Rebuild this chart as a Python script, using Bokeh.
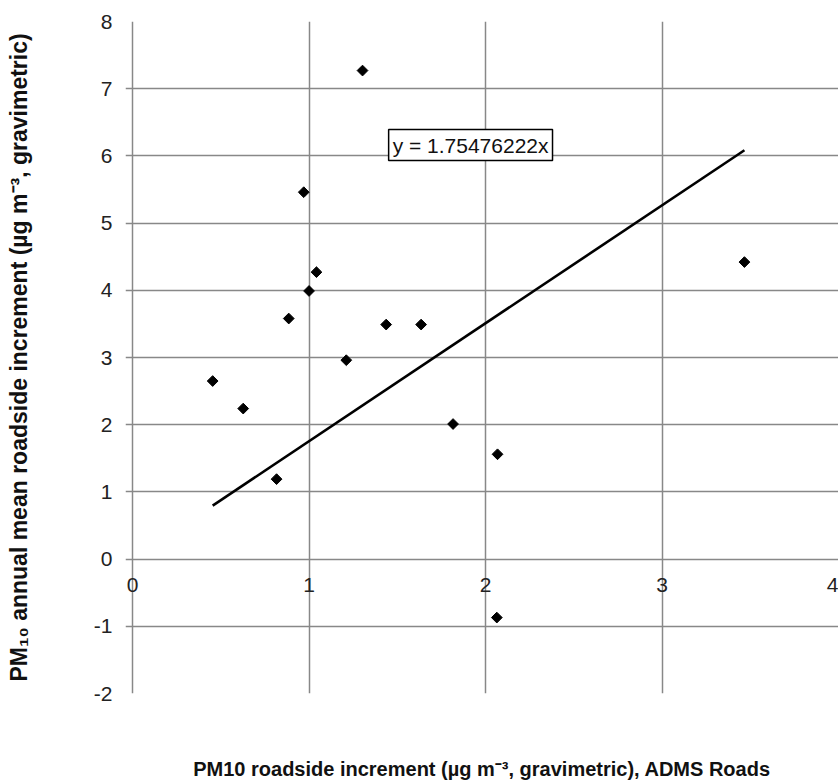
from bokeh.plotting import figure
from bokeh.models import Label, FixedTicker, ColumnDataSource, CustomJSTickFormatter, LinearAxis
from bokeh.embed import file_html
from bokeh.resources import INLINE
import math

# --- data ---
adms_x = [0.454, 0.627, 0.816, 0.885, 0.970, 1.000, 1.042, 1.211, 1.303,
          1.437, 1.635, 1.816, 2.064, 2.068, 3.467]
measured_y = [2.65, 2.24, 1.19, 3.58, 5.46, 3.99, 4.27, 2.96, 7.27,
              3.49, 3.49, 2.01, -0.87, 1.56, 4.42]
SLOPE = 1.75476222
x_ticks = [0, 1, 2, 3, 4]
y_ticks = [-2, -1, 0, 1, 2, 3, 4, 5, 6, 7, 8]
X_TITLE = "PM10 roadside increment (\u00b5g m\u207b\u00b3, gravimetric), ADMS Roads"
Y_TITLE = "PM\u2081\u2080 annual mean roadside increment (\u00b5g m\u207b\u00b3, gravimetric)"

FONT = "Liberation Sans"
GRID = "#888888"
plain = CustomJSTickFormatter(code="return String(tick)")

# small left pad so the y gridlines stick out like tick marks
X_RANGE = (-0.04, 4.0)
Y_RANGE = (-2, 8)

p = figure(width=838, height=782, x_range=X_RANGE, y_range=Y_RANGE,
           output_backend="svg", toolbar_location=None,
           min_border_left=125, min_border_right=0, min_border_top=21,
           min_border_bottom=88)
p.outline_line_color = None
p.background_fill_color = "white"

# grid
p.xgrid.ticker = FixedTicker(ticks=x_ticks)
p.ygrid.ticker = FixedTicker(ticks=y_ticks)
for g in (p.xgrid, p.ygrid):
    g.grid_line_color = GRID
    g.grid_line_width = 1.5

# y axis (labels only; the x = 0 gridline acts as the axis line)
ya = p.yaxis[0]
ya.ticker = FixedTicker(ticks=y_ticks)
ya.formatter = plain
ya.axis_line_color = None
ya.major_tick_line_color = None
ya.major_tick_out = 0
ya.major_tick_in = 0
ya.minor_tick_line_color = None
ya.major_label_standoff = 13
ya.major_label_text_font = FONT
ya.major_label_text_font_size = "21px"
ya.major_label_text_color = "#222222"
ya.axis_label = Y_TITLE
ya.axis_label_text_font = FONT
ya.axis_label_text_font_size = "23px"
ya.axis_label_text_font_style = "bold"
ya.axis_label_text_color = "#111111"
ya.axis_label_standoff = 59

# x axis crossing at y = 0
xa = p.xaxis[0]
xa.fixed_location = 0
xa.ticker = FixedTicker(ticks=x_ticks)
xa.formatter = plain
xa.axis_line_color = None
xa.major_tick_out = 0
xa.major_tick_in = 0
xa.minor_tick_line_color = None
xa.major_label_standoff = 19
xa.major_label_text_font = FONT
xa.major_label_text_font_size = "21px"
xa.major_label_text_color = "#222222"

# x axis title at the bottom (an axis carrying only its label)
xt = LinearAxis(ticker=FixedTicker(ticks=[]), axis_line_color=None,
                major_tick_line_color=None, minor_tick_line_color=None,
                major_tick_out=0, major_tick_in=0, major_label_standoff=0,
                axis_label=X_TITLE, axis_label_text_font=FONT,
                axis_label_text_font_size="20px", axis_label_text_font_style="bold",
                axis_label_text_color="#111111", axis_label_standoff=64)
p.add_layout(xt, "below")

# points
src = ColumnDataSource(data=dict(x=adms_x, y=measured_y))
p.scatter("x", "y", source=src, marker="square", size=7.6, angle=math.pi / 4,
          fill_color="black", line_color="black")

# trend line through origin
x0, x1 = min(adms_x), max(adms_x)
p.line([x0, x1], [SLOPE * x0, SLOPE * x1], line_color="black", line_width=2.6)

eq = Label(x=1.451, y=5.93, x_units="data", y_units="data",
           text=f"y = {SLOPE}x", text_font=FONT, text_font_size="21px",
           text_color="#111111", text_align="left", text_baseline="bottom",
           background_fill_color="white", border_line_color="black",
           border_line_width=1.5, padding=4)
p.add_layout(eq)

open("out.html", "w").write(file_html(p, INLINE))
